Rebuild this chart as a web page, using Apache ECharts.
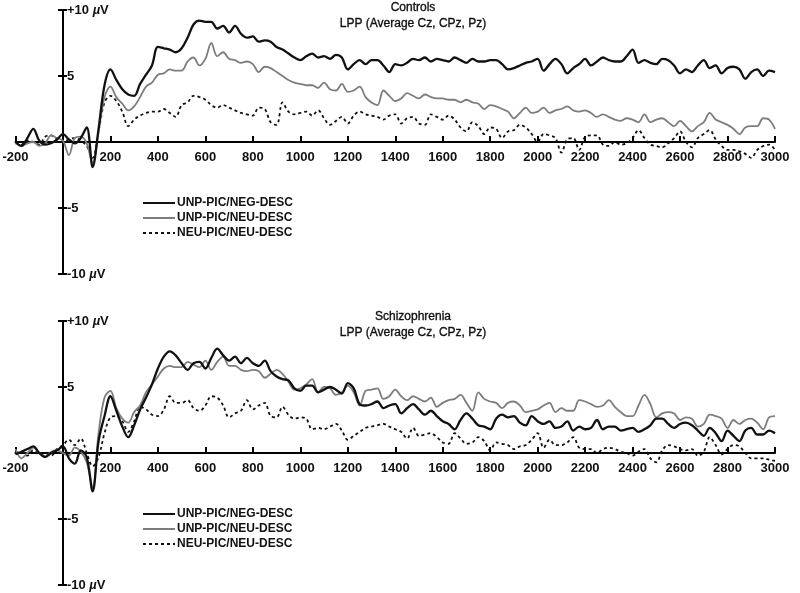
<!DOCTYPE html>
<html>
<head>
<meta charset="utf-8">
<script src="https://cdn.jsdelivr.net/npm/echarts@6/dist/echarts.min.js"></script>
<style>
html,body{margin:0;padding:0;background:#fff;}
#chart{width:800px;height:593px;}
</style>
</head>
<body>
<div id="chart"></div>
<script>
// sample times (ms)
const times = [-200,-175,-150,-125,-100,-75,-50,-25,0,25,50,75,100,125,150,175,200,225,250,275,300,325,350,375,400,425,450,475,500,525,550,575,600,625,650,675,700,725,750,775,800,825,850,875,900,925,950,975,1000,1025,1050,1075,1100,1125,1150,1175,1200,1225,1250,1275,1300,1325,1350,1375,1400,1425,1450,1475,1500,1525,1550,1575,1600,1625,1650,1675,1700,1725,1750,1775,1800,1825,1850,1875,1900,1925,1950,1975,2000,2025,2050,2075,2100,2125,2150,2175,2200,2225,2250,2275,2300,2325,2350,2375,2400,2425,2450,2475,2500,2525,2550,2575,2600,2625,2650,2675,2700,2725,2750,2775,2800,2825,2850,2875,2900,2925,2950,2975,3000];

const seriesNames = ['UNP-PIC/NEG-DESC', 'UNP-PIC/NEU-DESC', 'NEU-PIC/NEU-DESC'];
const panelTitles = ['Controls', 'Schizophrenia'];
const subTitle = 'LPP (Average Cz, CPz, Pz)';
const xTickLabels = [-200,200,400,600,800,1000,1200,1400,1600,1800,2000,2200,2400,2600,2800,3000];
const yTickLabels = {'10':'+10 µV','5':'5','0':'','-5':'-5','-10':'-10 µV'};
const xRange = [-200, 3000];
const yRange = [-10, 10];

// Controls
const ctrlNeg = [0.0,-0.3,0.3,1.0,0.1,-0.2,-0.1,0.2,0.6,0.2,-0.1,0.3,1.1,-1.9,1.0,4.3,5.5,4.7,4.0,3.6,3.5,4.4,5.1,5.8,7.2,7.1,7.0,6.8,7.1,7.9,8.9,9.2,9.1,9.1,8.6,8.8,8.3,8.8,8.2,7.9,8.0,7.6,7.7,7.6,7.2,7.0,6.7,6.4,6.2,6.5,6.7,6.4,6.5,6.3,6.6,6.4,5.5,5.9,6.2,5.9,6.2,6.2,5.8,5.3,5.9,5.8,6.0,6.3,6.2,6.4,6.1,6.3,6.2,6.1,6.4,6.2,6.0,6.3,6.1,6.1,6.2,6.2,5.9,5.5,5.6,5.8,6.0,6.1,6.3,5.4,5.9,6.3,5.9,5.2,5.6,5.9,6.3,5.8,6.1,6.4,6.2,6.1,6.1,6.5,7.0,6.0,6.2,6.0,5.9,6.3,6.2,5.8,5.2,5.5,5.3,5.8,6.2,5.6,5.8,5.2,5.6,5.7,5.5,4.8,5.3,5.5,5.0,5.4,5.3];
const ctrlNeu = [-0.1,-0.3,-0.1,0.0,-0.3,-0.1,0.5,0.3,0.1,-1.0,0.3,0.4,-0.1,-1.6,0.8,3.4,4.2,3.4,2.9,2.4,2.7,3.4,4.2,4.5,5.1,5.2,5.5,5.4,5.4,6.1,6.4,5.8,6.3,7.5,6.5,6.8,6.3,6.2,6.0,6.1,5.9,5.3,5.7,5.6,5.3,5.0,4.7,4.5,4.4,4.3,4.3,4.1,4.5,4.0,3.9,4.4,3.8,3.9,4.2,3.4,3.0,2.8,3.9,3.5,3.1,3.3,3.7,3.5,3.3,3.6,3.4,3.3,3.3,3.2,3.2,3.0,3.2,3.0,2.9,2.5,2.8,2.7,2.5,2.3,1.8,2.2,2.6,2.2,2.3,2.6,2.2,2.4,2.5,2.7,2.4,2.3,2.4,2.2,1.9,2.1,1.9,1.7,1.6,1.8,1.7,1.5,2.1,1.5,1.7,1.8,1.5,1.2,1.6,1.2,0.8,1.2,1.5,2.2,1.7,1.5,1.3,1.0,0.6,1.1,1.2,1.2,1.8,1.7,1.0];
const ctrlNeuNeu = [0.0,-0.2,0.1,0.0,-0.2,0.4,0.5,0.2,0.0,0.2,0.3,0.1,-0.3,-1.2,0.8,3.0,3.5,3.1,2.3,1.2,1.7,2.0,2.2,2.3,2.3,2.5,2.2,1.9,2.8,3.0,3.5,3.4,3.2,2.8,2.6,2.8,2.6,2.4,2.2,2.1,2.0,2.6,2.5,1.5,1.3,3.0,2.3,2.1,2.2,2.3,2.0,2.4,1.8,1.3,1.6,1.9,1.4,2.0,2.3,2.1,2.0,1.9,1.7,2.0,2.1,1.4,1.8,1.9,1.4,1.3,2.1,1.9,1.7,2.0,1.7,1.1,0.8,1.5,1.2,0.6,1.1,1.0,0.3,0.8,0.9,1.3,1.1,0.6,0.0,0.6,0.5,0.3,-0.8,0.2,0.3,-0.6,0.4,0.5,0.5,-0.2,-0.3,0.0,-0.2,-0.1,0.3,0.9,0.3,-0.2,-0.3,-0.4,-0.1,0.3,0.8,0.0,-0.4,0.3,0.6,0.9,0.2,-0.3,-0.6,-0.6,-0.7,-0.9,-1.2,-0.6,-0.3,-0.2,-0.6];

// Schizophrenia
const szNeg = [-0.1,0.1,0.3,0.5,0.0,-0.3,0.0,0.2,0.5,-0.4,-0.8,0.2,-0.3,-2.9,0.9,2.8,4.3,3.2,2.0,1.2,2.1,3.3,4.2,5.2,6.4,7.3,7.7,7.4,6.8,6.3,6.8,6.9,6.4,7.2,7.9,7.4,7.0,7.3,6.8,7.2,6.8,6.6,7.0,6.2,5.8,5.6,5.5,4.9,4.7,5.1,5.1,4.6,4.8,5.0,4.8,4.5,5.3,4.9,3.7,3.6,3.7,3.9,3.4,3.6,3.7,3.0,3.4,3.7,3.3,2.9,3.2,2.8,2.4,2.2,1.8,2.5,3.0,2.6,2.1,2.0,1.8,2.6,2.9,2.7,2.8,2.3,2.1,2.8,2.4,2.2,2.4,1.9,2.0,2.4,1.7,2.0,1.8,1.9,2.5,1.8,2.0,2.0,1.7,1.8,1.9,1.6,1.8,2.1,2.6,2.6,2.2,1.9,2.2,2.3,2.1,1.7,1.3,1.9,1.5,0.9,1.7,1.3,0.9,1.7,1.9,1.4,1.4,1.7,1.5];
const szNeu = [0.3,-0.4,0.0,0.4,0.0,-0.3,0.1,0.2,0.0,-0.2,0.4,0.1,-0.7,-2.6,1.5,4.2,4.7,3.4,2.6,2.3,3.1,3.6,4.6,5.2,5.8,6.4,6.6,6.5,6.5,6.9,6.7,6.5,7.0,6.3,6.9,7.3,6.6,6.6,6.3,6.2,6.3,6.2,5.7,6.0,6.3,6.0,5.4,4.8,4.9,5.2,5.6,4.6,5.0,4.9,4.4,4.6,5.1,4.6,3.6,4.7,4.8,4.9,4.1,4.3,4.8,4.3,4.0,4.3,4.1,3.9,4.2,3.5,3.8,4.0,4.1,4.4,3.8,3.2,4.6,4.1,3.9,3.8,3.4,3.8,3.9,3.6,3.1,3.2,3.3,3.6,3.8,3.1,3.4,3.2,3.2,4.0,3.9,3.7,3.5,3.6,4.0,3.5,3.1,2.8,2.8,3.6,4.4,3.7,2.7,3.0,3.1,3.0,2.5,2.7,2.6,2.0,2.2,2.9,2.8,2.6,1.9,2.5,2.2,2.5,2.6,2.3,1.8,2.7,2.8];
const szNeuNeu = [0.0,0.1,-0.2,0.2,-0.1,0.0,-0.2,0.3,0.6,1.0,0.6,1.1,0.0,-1.0,-0.3,1.5,2.7,2.8,2.4,1.6,2.4,3.5,3.3,2.9,2.8,3.3,4.3,3.8,3.8,4.0,3.4,3.2,3.6,4.3,4.2,3.6,2.7,3.0,3.2,4.0,3.3,3.6,3.8,2.8,2.7,3.5,2.9,2.6,2.7,2.6,1.8,1.9,1.8,2.0,2.2,1.7,1.0,1.3,1.6,1.9,2.0,2.1,2.2,2.0,1.8,1.6,1.1,1.9,1.3,1.4,1.5,1.2,0.8,0.7,1.5,1.1,0.7,0.8,1.2,0.9,0.2,0.8,0.7,0.6,0.3,0.5,0.6,1.0,1.5,0.4,1.0,0.6,0.6,0.8,1.2,0.4,0.3,0.3,0.0,0.3,0.4,0.3,0.1,0.0,-0.2,0.1,0.3,-0.4,-0.7,0.2,0.6,0.5,0.3,0.2,0.3,-0.2,0.1,1.2,0.6,-0.1,0.3,0.6,0.5,0.0,-0.4,-0.4,-0.4,-0.5,-0.6];

const panels = [
  {title: panelTitles[0], data: [ctrlNeg, ctrlNeu, ctrlNeuNeu]},
  {title: panelTitles[1], data: [szNeg, szNeu, szNeuNeu]}
];

// ---- layout (pixels) ----
const FONT = '"Liberation Sans", Arial, Helvetica, sans-serif';
const plotLeft = 15.5, plotRight = 775, plotH = 264;
const gridTops = [10, 321];
const titleTops = [0, 309];
const legendTops = [197, 508];
const styles = [
  {color: '#111111', width: 2.3, type: 'solid'},
  {color: '#7d7d7d', width: 1.8, type: 'solid'},
  {color: '#111111', width: 1.8, type: [3, 3]}
];
// pixel x of time 0 derived from the same scale as the plot
const pxPerMs = (plotRight - plotLeft) / (xRange[1] - xRange[0]);
const zeroX = plotLeft + (0 - xRange[0]) * pxPerMs;

const option = {
  animation: false,
  backgroundColor: '#ffffff',
  title: [], legend: [], grid: [], xAxis: [], yAxis: [], series: []
};

const hiddenAxis = (extra) => Object.assign({
  type: 'value', show: false, splitLine: {show: false}
}, extra);

const axisLineStyle = {color: '#000', width: 2};
const labelFont = {color: '#111', fontFamily: FONT, fontSize: 13, fontWeight: 'bold'};

panels.forEach((p, i) => {
  const top = gridTops[i];
  const gBase = option.grid.length;
  option.grid.push({left: plotLeft, width: plotRight - plotLeft, top: top, height: plotH, outerBoundsMode: 'none', containLabel: false});
  option.grid.push({left: plotLeft, width: plotRight - plotLeft, top: top, height: plotH / 2, outerBoundsMode: 'none', containLabel: false});
  option.grid.push({left: zeroX, width: 100, top: top, height: plotH, outerBoundsMode: 'none', containLabel: false});

  const xBase = option.xAxis.length;
  const yBase = option.yAxis.length;

  option.xAxis.push(hiddenAxis({gridIndex: gBase, min: xRange[0], max: xRange[1]}));
  option.yAxis.push(hiddenAxis({gridIndex: gBase, min: yRange[0], max: yRange[1]}));

  option.xAxis.push({
    type: 'value', gridIndex: gBase + 1, min: xRange[0], max: xRange[1], interval: 200, position: 'bottom',
    axisLine: {onZero: false, lineStyle: axisLineStyle},
    axisTick: {inside: true, length: 6, lineStyle: axisLineStyle},
    axisLabel: Object.assign({
      margin: 9, showMinLabel: true, showMaxLabel: true, hideOverlap: false,
      formatter: v => (xTickLabels.indexOf(v) >= 0 ? String(v) : '')
    }, labelFont),
    splitLine: {show: false}
  });
  option.yAxis.push(hiddenAxis({gridIndex: gBase + 1, min: 0, max: yRange[1]}));

  option.xAxis.push(hiddenAxis({gridIndex: gBase + 2, min: 0, max: 1}));
  option.yAxis.push({
    type: 'value', gridIndex: gBase + 2, min: yRange[0], max: yRange[1], interval: 5, position: 'left',
    axisLine: {onZero: false, lineStyle: axisLineStyle},
    axisTick: {inside: false, length: 5, lineStyle: axisLineStyle},
    axisLabel: Object.assign({
      inside: true, margin: 4, showMinLabel: true, showMaxLabel: true, hideOverlap: false,
      formatter: v => {
        const s = yTickLabels[String(v)] || '';
        return s.indexOf('µ') >= 0 ? s.replace('µ', '{mu|µ}') : s;
      },
      rich: {mu: Object.assign({fontStyle: 'italic'}, labelFont)}
    }, labelFont),
    splitLine: {show: false}
  });
  option.yAxis.push({
    type: 'value', gridIndex: gBase + 2, min: yRange[0], max: yRange[1], interval: 5, position: 'left',
    axisLine: {show: false, onZero: false},
    axisTick: {inside: true, length: 4, lineStyle: axisLineStyle},
    axisLabel: {show: false},
    splitLine: {show: false}
  });

  option.title.push({
    text: p.title + '\n' + subTitle,
    left: 413, top: titleTops[i], textAlign: 'center', padding: 0,
    textStyle: {fontFamily: FONT, fontSize: 12, fontWeight: 'normal', color: '#111', lineHeight: 16,
      textBorderColor: '#111', textBorderWidth: 0.35}
  });

  option.legend.push({
    orient: 'vertical', left: 142, top: legendTops[i], padding: 0,
    itemWidth: 32, itemHeight: 12, itemGap: 3,
    data: seriesNames.slice(),
    selectedMode: false,
    itemStyle: {opacity: 0},
    textStyle: {fontFamily: FONT, fontSize: 12, fontWeight: 'bold', color: '#111', padding: [0, 0, 0, -3]}
  });

  // dashed first, gray second, black on top
  [2, 1, 0].forEach(k => {
    option.series.push({
      name: seriesNames[k], type: 'line', xAxisIndex: xBase, yAxisIndex: yBase,
      data: times.map((t, j) => [t, p.data[k][j]]),
      showSymbol: false, symbol: 'none', smooth: 0.35,
      lineStyle: {color: styles[k].color, width: styles[k].width, type: styles[k].type},
      itemStyle: {color: styles[k].color},
      z: 3 + (2 - k)
    });
  });
});

const chart = echarts.init(document.getElementById('chart'), null, {renderer: 'canvas'});
chart.setOption(option);
</script>
</body>
</html>
